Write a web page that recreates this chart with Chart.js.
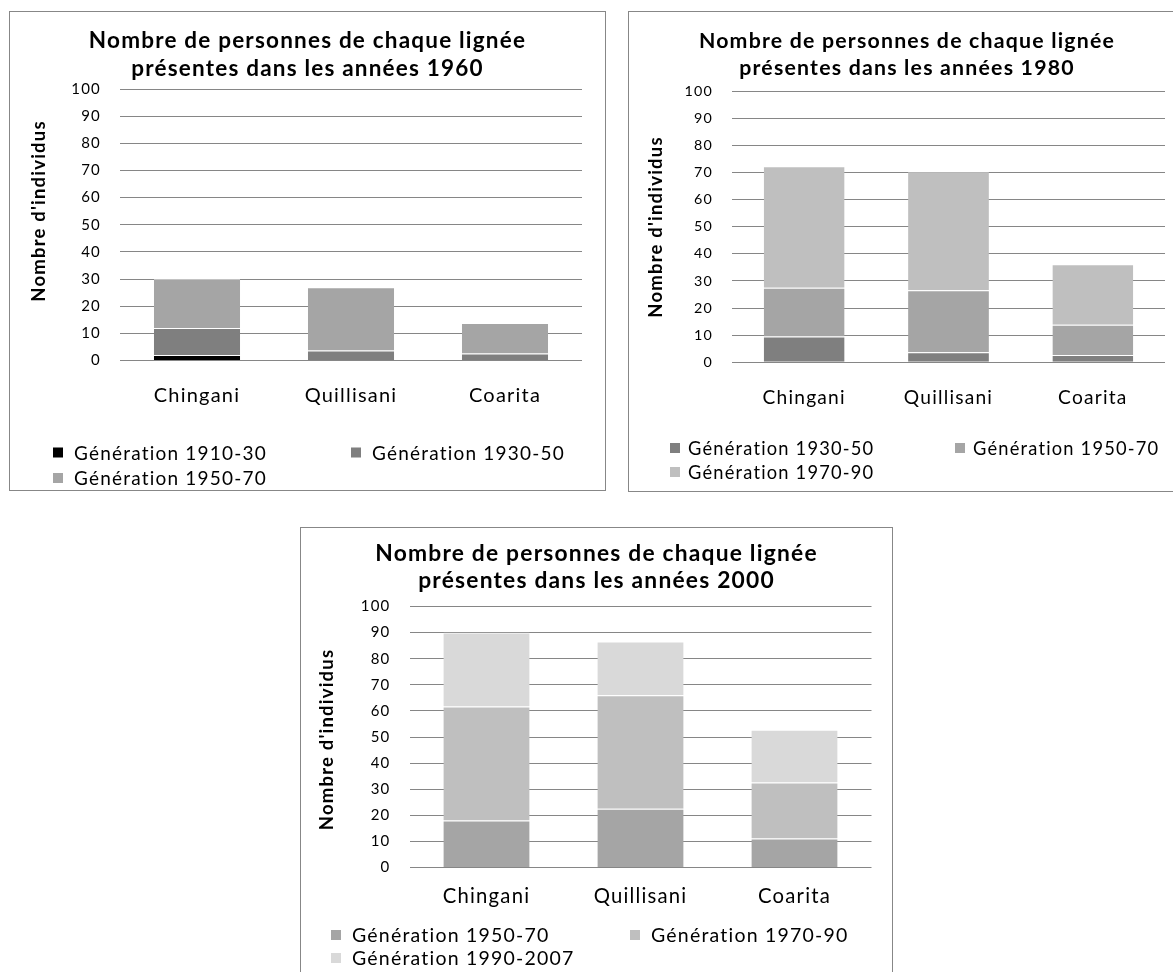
<!DOCTYPE html>
<html><head><meta charset="utf-8">
<script src="https://cdn.jsdelivr.net/npm/chart.js@4.4.1/dist/chart.umd.min.js"></script>
<style>
html,body{margin:0;padding:0;background:#fff;overflow:hidden;width:1173px;height:972px;}
.box{position:absolute;border:1px solid #878787;box-sizing:border-box;background:#fff;}
.box canvas{position:absolute;left:0;top:0;}
</style></head><body>
<div class="box" style="left:9px;top:11px;width:597px;height:480px"><canvas id="c1"></canvas></div>
<div class="box" style="left:628px;top:11px;width:558px;height:481px"><canvas id="c2"></canvas></div>
<div class="box" style="left:300px;top:527px;width:593px;height:463px"><canvas id="c3"></canvas></div>
<script>
// ---- data ----
const categories = ['Chingani', 'Quillisani', 'Coarita'];
const yTicks = [0, 10, 20, 30, 40, 50, 60, 70, 80, 90, 100];
const yAxisLabel = "Nombre d'individus";

const title1960 = ['Nombre de personnes de chaque lignée', 'présentes dans les années 1960'];
const title1980 = ['Nombre de personnes de chaque lignée', 'présentes dans les années 1980'];
const title2000 = ['Nombre de personnes de chaque lignée', 'présentes dans les années 2000'];

const labelsGen = ['Génération 1910-30', 'Génération 1930-50', 'Génération 1950-70', 'Génération 1970-90', 'Génération 1990-2007'];

// années 1960
const g1910_1960 = [2, 0, 0];
const g1930_1960 = [10, 3.7, 2.6];
const g1950_1960 = [18, 23.3, 11.2];
// années 1980
const g1930_1980 = [9.5, 3.7, 2.7];
const g1950_1980 = [18, 22.9, 11.1];
const g1970_1980 = [44.8, 43.6, 22.3];
// années 2000
const g1950_2000 = [18, 22.5, 11.1];
const g1970_2000 = [43.7, 43.5, 21.5];
const g1990_2000 = [28.3, 20.6, 20.2];

const colBlack = '#000000', colDark = '#7f7f7f', colMid = '#a5a5a5', colLight = '#bfbfbf', colPale = '#d9d9d9';

// ---- plugins ----
const spacing = {
  id: 'spacing',
  beforeUpdate(chart, a, o) { chart.ctx.letterSpacing = o.px + 'px'; },
  beforeDraw(chart, a, o) { chart.ctx.letterSpacing = o.px + 'px'; }
};
const gridLegend = {
  id: 'gridLegend',
  afterDraw(chart, a, o) {
    const ctx = chart.ctx;
    ctx.save();
    ctx.letterSpacing = o.ls + 'px';
    ctx.font = o.size + 'px ' + o.family;
    ctx.textBaseline = 'middle';
    ctx.textAlign = 'left';
    chart.data.datasets.forEach((ds, i) => {
      const col = i % 2, row = Math.floor(i / 2);
      const x = o.cols[col], y = o.rows[row];
      ctx.fillStyle = ds.backgroundColor;
      ctx.fillRect(x, y - o.box / 2, o.box, o.box);
      ctx.fillStyle = '#000';
      ctx.fillText(ds.label, x + o.gap, y + 1);
    });
    ctx.restore();
  }
};
const yTitle = {
  id: 'yTitle',
  afterDraw(chart, a, o) {
    const ctx = chart.ctx;
    ctx.save();
    ctx.letterSpacing = o.ls + 'px';
    ctx.translate(o.x, o.y);
    ctx.rotate(-Math.PI / 2);
    ctx.font = 'bold ' + o.size + 'px ' + o.family;
    ctx.textAlign = 'center';
    ctx.textBaseline = 'middle';
    ctx.fillStyle = '#000';
    ctx.fillText(o.text, 0, 0);
    ctx.restore();
  }
};

const FAM = 'Lato, "Open Sans", sans-serif';

function makeChart(id, w, h, titleLines, datasets, L) {
  const cv = document.getElementById(id);
  cv.width = w; cv.height = h;
  cv.style.width = w + 'px'; cv.style.height = h + 'px';
  return new Chart(cv, {
    type: 'bar',
    data: {
      labels: categories,
      datasets: datasets.map(d => ({
        label: d.label, data: d.data, backgroundColor: d.color,
        borderColor: 'rgba(255,255,255,0.5)', borderWidth: {top: 1, left: 0, right: 0, bottom: 0}, borderSkipped: false,
        categoryPercentage: 1, barPercentage: 0.56
      }))
    },
    plugins: [spacing, gridLegend, yTitle],
    options: {
      responsive: false, animation: false, events: [],
      layout: { padding: { left: L.pad, top: 0, right: L.pad, bottom: 0 } },
      plugins: {
        spacing: { px: L.ls },
        legend: { display: false },
        tooltip: { enabled: false },
        title: {
          display: true, text: titleLines, color: '#000',
          font: { family: FAM, size: L.titleSize, weight: 'bold', lineHeight: L.titleLH },
          padding: { top: L.titleTop, bottom: L.titleBottom }
        },
        gridLegend: { family: FAM, size: L.legSize, ls: L.ls, cols: L.legCols, rows: L.legRows, box: 10, gap: L.legGap },
        yTitle: { family: FAM, size: L.yTitleSize, ls: L.ls, text: yAxisLabel, x: L.yTitleX, y: L.yTitleY }
      },
      scales: {
        x: {
          stacked: true,
          grid: { display: false, drawTicks: false }, border: { display: false },
          ticks: { color: '#000', font: { family: FAM, size: L.catSize, lineHeight: 1.2 }, padding: L.catPad, maxRotation: 0 },
          afterFit(s) { s.height = L.xH; }
        },
        y: {
          stacked: true, min: 0, max: 100,
          afterBuildTicks(s) { s.ticks = yTicks.map(v => ({ value: v })); },
          grid: { color: '#868686', lineWidth: 1, drawTicks: false }, border: { display: false },
          ticks: { color: '#000', font: { family: FAM, size: L.tickSize }, padding: L.tickPad },
          afterFit(s) { s.width = L.plotLeft - L.pad; }
        }
      }
    }
  });
}

makeChart('c1', 595, 478, title1960, [
  { label: labelsGen[0], data: g1910_1960, color: colBlack },
  { label: labelsGen[1], data: g1930_1960, color: colDark },
  { label: labelsGen[2], data: g1950_1960, color: colMid }
], { ls: 1.2, pad: 23, plotLeft: 110, titleSize: 22.5, titleLH: 27.5 / 22.5, titleTop: 15.25, titleBottom: 6.75,
     xH: 129.5, catSize: 20, catPad: 23.5, tickSize: 15, tickPad: 19,
     legSize: 19, legCols: [43, 341], legRows: [440.5, 466], legGap: 21,
     yTitleSize: 18.5, yTitleX: 29.5, yTitleY: 199 });

makeChart('c2', 556, 479, title1980, [
  { label: labelsGen[1], data: g1930_1980, color: colDark },
  { label: labelsGen[2], data: g1950_1980, color: colMid },
  { label: labelsGen[3], data: g1970_1980, color: colLight }
], { ls: 1.2, pad: 20, plotLeft: 103, titleSize: 21.3, titleLH: 27.5 / 21.3, titleTop: 15.25, titleBottom: 8.75,
     xH: 128.7, catSize: 19.2, catPad: 24.2, tickSize: 14.3, tickPad: 19,
     legSize: 18.3, legCols: [41, 326], legRows: [436, 460], legGap: 18,
     yTitleSize: 18.5, yTitleX: 27.5, yTitleY: 215 });

makeChart('c3', 591, 461, title2000, [
  { label: labelsGen[2], data: g1950_2000, color: colMid },
  { label: labelsGen[3], data: g1970_2000, color: colLight },
  { label: labelsGen[4], data: g1990_2000, color: colPale }
], { ls: 1.2, pad: 20.5, plotLeft: 108.5, titleSize: 22.8, titleLH: 27 / 22.8, titleTop: 12.5, titleBottom: 12,
     xH: 121.5, catSize: 20.3, catPad: 16.3, tickSize: 15, tickPad: 19,
     legSize: 19.5, legCols: [30, 329], legRows: [407, 430], legGap: 21,
     yTitleSize: 18.5, yTitleX: 26.5, yTitleY: 211.5 });
</script>
</body></html>
